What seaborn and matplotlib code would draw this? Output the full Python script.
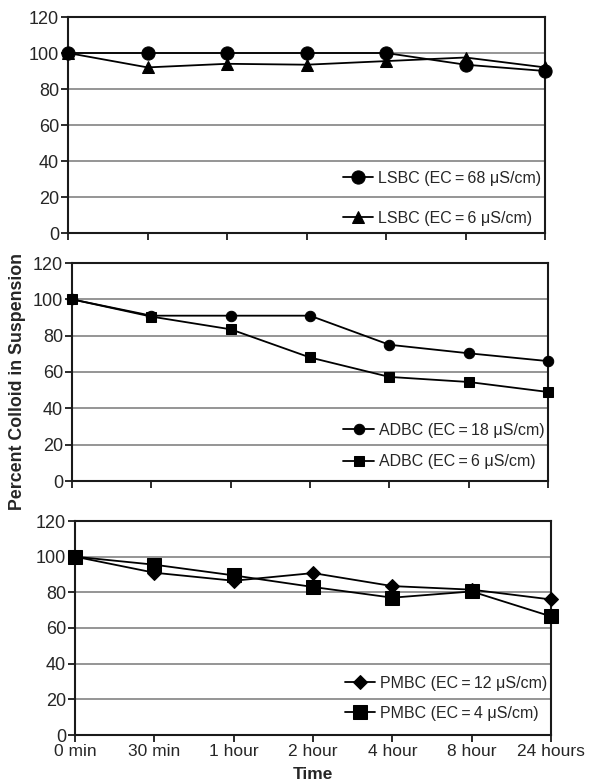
import matplotlib
matplotlib.use("Agg")
import matplotlib.pyplot as plt
import seaborn as sns
import numpy as np

time_labels = ["0 min", "30 min", "1 hour", "2 hour", "4 hour", "8 hour", "24 hours"]

lsbc_68 = [100, 100, 100, 100, 100, 93.5, 90]
lsbc_6 = [100, 92, 94, 93.5, 95.5, 97.5, 92]

adbc_18 = [100, 91, 91, 91, 75, 70.3, 66]
adbc_6 = [100, 90.5, 83.5, 68, 57.3, 54.5, 49]

pmbc_12 = [100, 91, 86.5, 90.8, 83.5, 81.5, 76]
pmbc_4 = [100, 95.5, 89.5, 83, 77, 80.5, 66.5]

y_ticks = [0, 20, 40, 60, 80, 100, 120]

sns.set_style("white")
plt.rcParams["font.family"] = ["Liberation Sans", "DejaVu Sans"]

fig = plt.figure(figsize=(5.89, 7.84), dpi=100)

panels = [
    ([68/589, 551/784, 477/589, 216/784], 0.034, 1.55,
     [(lsbc_68, "o", 9.5, "LSBC (EC\u2009=\u200968 \u03bcS/cm)"),
      (lsbc_6, "^", 9, "LSBC (EC\u2009=\u20096 \u03bcS/cm)")]),
    ([72/589, 303/784, 476/589, 218/784], 0.053, 1.05,
     [(adbc_18, "o", 7.5, "ADBC (EC\u2009=\u200918 \u03bcS/cm)"),
      (adbc_6, "s", 7.5, "ADBC (EC\u2009=\u20096 \u03bcS/cm)")]),
    ([75/589, 49/784, 476/589, 214/784], 0.067, 0.93,
     [(pmbc_12, "D", 7, "PMBC (EC\u2009=\u200912 \u03bcS/cm)"),
      (pmbc_4, "s", 9.5, "PMBC (EC\u2009=\u20094 \u03bcS/cm)")]),
]

x = np.arange(len(time_labels))
axes = []
for pos, leg_y, leg_sp, series in panels:
    ax = fig.add_axes(pos)
    axes.append(ax)
    for vals, mk, ms, lab in series:
        sns.lineplot(x=x, y=vals, ax=ax, color="black", marker=mk,
                     markersize=ms, markeredgecolor="black", linewidth=1.3,
                     label=lab, clip_on=False, zorder=5)
    ax.set_xlim(0, 6)
    ax.set_ylim(0, 120)
    ax.set_yticks(y_ticks)
    ax.set_yticklabels([str(v) for v in y_ticks], fontsize=13)
    ax.set_xticks(x)
    ax.set_xticklabels([])
    for v in y_ticks[1:-1]:
        ax.axhline(v, color="#8c8c8c", linewidth=1.3, zorder=0)
    for s in ax.spines.values():
        s.set_color("#1a1a1a")
        s.set_linewidth(1.5)
    ax.tick_params(axis="both", direction="out", length=5, width=1.3,
                   color="#1a1a1a", left=True, bottom=True, pad=1.5)
    ax.set_xlabel("")
    ax.set_ylabel("")
    ax.legend(loc="lower right", bbox_to_anchor=(0.992, leg_y),
              frameon=False, fontsize=11.5, handlelength=1.9,
              handletextpad=0.3, labelspacing=leg_sp, borderaxespad=0,
              borderpad=0)

axes[2].set_xticklabels(time_labels, fontsize=12.5)

fig.text(0.531, 0.012, "Time", ha="center", va="center",
         fontsize=12.5, fontweight="bold")
fig.text(0.029, 0.514, "Percent Colloid in Suspension", rotation=90,
         ha="center", va="center", fontsize=12.8, fontweight="bold")

fig.savefig("out.png", dpi=100)
